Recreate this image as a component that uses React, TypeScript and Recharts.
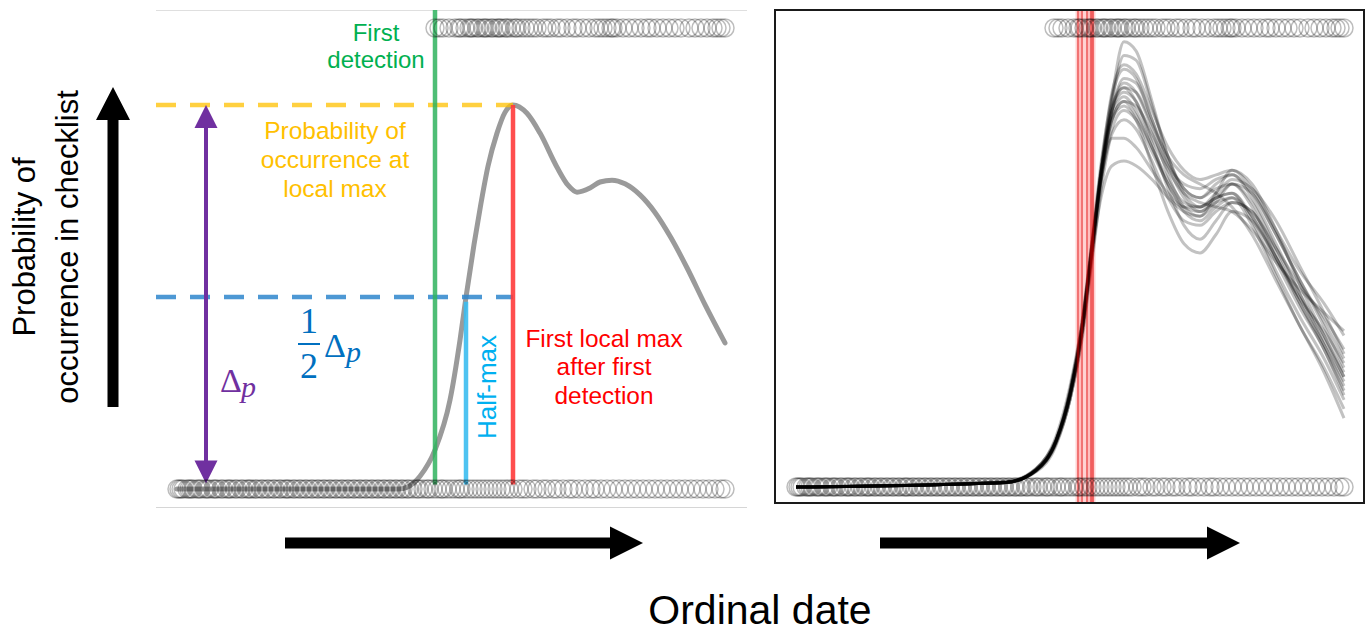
import { ComposedChart, Line, Scatter, XAxis, YAxis, ReferenceLine } from 'recharts'

// checklist days (shared by both panels)
const ABSENT_DAYS = [
  10, 11, 12, 13, 15, 16, 17, 18, 20, 21, 22, 24, 25, 26, 28, 29, 30, 32, 33, 35, 36, 37, 39, 40, 42, 43, 45, 46,
  47, 49, 50, 52, 53, 55, 56, 58, 59, 61, 62, 64, 65, 66, 68, 69, 71, 72, 74, 75, 77, 78, 80, 81, 83, 84, 86, 87,
  89, 90, 92, 93, 95, 96, 98, 99, 101, 102, 104, 105, 107, 108, 110, 111, 113, 114, 116, 117, 119, 120, 122, 123,
  125, 126, 128, 130, 131, 133, 135, 136, 138, 140, 142, 143, 145, 147, 149, 151, 152, 154, 156, 158, 160, 162,
  164, 166, 168, 170, 172, 174, 176, 178, 181, 183, 185, 188, 190, 193, 195, 198, 200, 203, 206, 208, 211, 214,
  217, 219, 222, 225, 228, 231, 234, 237, 240, 243, 246, 249, 252, 255, 258, 261, 264, 267, 270, 273, 276, 279,
  282, 284,
]
const PRESENT_DAYS = [
  139, 141, 143, 146, 149, 151, 152, 154, 156, 157, 158, 160, 161, 163, 164, 165, 167, 168, 170, 171, 172, 174,
  175, 177, 179, 180, 182, 184, 186, 188, 190, 193, 195, 197, 200, 202, 205, 208, 210, 213, 216, 219, 221, 223,
  225, 227, 228, 230, 233, 236, 239, 242, 245, 247, 250, 253, 256, 259, 262, 266, 269, 272, 275, 278, 280, 282, 284,
]

// left panel: schematic fitted curve
const LEFT_CURVE_DAYS = [10, 60, 121, 125, 131.5, 139, 146.5, 151.5, 154.5, 158.5, 162, 165.5, 170, 174, 178, 185,
  191.5, 200, 205.5, 210, 216.5, 221.5, 227.5, 234, 241.5, 249, 257, 265, 274, 284]
const LEFT_CURVE_P = [0, 0, 0, 0.004, 0.028, 0.085, 0.193, 0.323, 0.4165, 0.53, 0.62, 0.7, 0.772, 0.817, 0.833, 0.815,
  0.772, 0.698, 0.659, 0.644, 0.653, 0.666, 0.67, 0.662, 0.638, 0.6, 0.545, 0.48, 0.4, 0.317]

const FIRST_DETECTION_DAY = 139
const HALF_MAX_DAY = 154.5
const LOCAL_MAX_DAY = 178
const LOCAL_MAX_P = 0.833
const DELTA_ARROW_DAY = 24.5

// right panel: bootstrap ensemble
const ENSEMBLE_DAYS = [10, 115, 130, 140, 147, 153, 158, 163, 168, 174, 180, 188, 196, 204, 212, 220, 228, 238, 250, 262, 274, 284]
const ENSEMBLE_MEMBERS = [
  [0, 0.01, 0.035, 0.1, 0.21, 0.36, 0.54, 0.72, 0.85, 0.91, 0.89, 0.8, 0.7, 0.63, 0.6, 0.63, 0.66, 0.62, 0.52, 0.42, 0.33, 0.25],
  [0, 0.01, 0.04, 0.11, 0.22, 0.36, 0.53, 0.68, 0.78, 0.82, 0.8, 0.73, 0.66, 0.6, 0.58, 0.61, 0.63, 0.59, 0.49, 0.39, 0.3, 0.2],
  [0, 0.01, 0.033, 0.09, 0.19, 0.33, 0.5, 0.68, 0.82, 0.89, 0.88, 0.8, 0.71, 0.65, 0.63, 0.66, 0.68, 0.64, 0.55, 0.45, 0.36, 0.28],
  [0, 0.012, 0.04, 0.105, 0.205, 0.345, 0.52, 0.7, 0.84, 0.94, 0.93, 0.83, 0.72, 0.64, 0.61, 0.63, 0.64, 0.58, 0.47, 0.37, 0.28, 0.19],
  [0, 0.009, 0.036, 0.095, 0.19, 0.32, 0.49, 0.66, 0.77, 0.8, 0.78, 0.71, 0.63, 0.58, 0.57, 0.6, 0.62, 0.6, 0.52, 0.44, 0.37, 0.3],
  [0, 0.01, 0.038, 0.1, 0.2, 0.35, 0.53, 0.71, 0.83, 0.87, 0.84, 0.75, 0.65, 0.57, 0.54, 0.58, 0.62, 0.6, 0.51, 0.4, 0.3, 0.21],
  [0, 0.011, 0.037, 0.1, 0.21, 0.35, 0.52, 0.69, 0.8, 0.84, 0.83, 0.77, 0.7, 0.66, 0.65, 0.67, 0.68, 0.63, 0.53, 0.42, 0.31, 0.22],
  [0, 0.01, 0.036, 0.098, 0.2, 0.34, 0.51, 0.69, 0.82, 0.88, 0.86, 0.78, 0.68, 0.61, 0.59, 0.64, 0.69, 0.66, 0.56, 0.44, 0.33, 0.24],
  [0, 0.01, 0.039, 0.103, 0.2, 0.34, 0.52, 0.7, 0.81, 0.85, 0.82, 0.74, 0.66, 0.61, 0.6, 0.62, 0.63, 0.57, 0.46, 0.35, 0.26, 0.17],
  [0, 0.01, 0.034, 0.094, 0.19, 0.33, 0.51, 0.7, 0.85, 0.97, 0.95, 0.84, 0.72, 0.65, 0.63, 0.65, 0.66, 0.61, 0.5, 0.41, 0.34, 0.27],
  [0, 0.01, 0.037, 0.1, 0.2, 0.34, 0.52, 0.68, 0.76, 0.76, 0.74, 0.69, 0.64, 0.61, 0.61, 0.63, 0.64, 0.59, 0.5, 0.4, 0.31, 0.23],
  [0, 0.01, 0.036, 0.1, 0.2, 0.35, 0.52, 0.7, 0.82, 0.86, 0.84, 0.76, 0.69, 0.64, 0.62, 0.61, 0.6, 0.56, 0.49, 0.43, 0.38, 0.34],
  [0, 0.01, 0.036, 0.1, 0.2, 0.34, 0.51, 0.64, 0.7, 0.71, 0.7, 0.67, 0.63, 0.6, 0.59, 0.62, 0.66, 0.64, 0.55, 0.45, 0.35, 0.26],
  [0, 0.01, 0.037, 0.1, 0.2, 0.35, 0.53, 0.7, 0.8, 0.83, 0.8, 0.7, 0.6, 0.53, 0.51, 0.55, 0.6, 0.58, 0.5, 0.41, 0.32, 0.24],
  [0, 0.01, 0.035, 0.097, 0.2, 0.34, 0.52, 0.71, 0.86, 0.92, 0.9, 0.82, 0.74, 0.69, 0.67, 0.68, 0.69, 0.65, 0.56, 0.47, 0.4, 0.33],
  [0, 0.011, 0.038, 0.102, 0.21, 0.35, 0.53, 0.7, 0.82, 0.87, 0.86, 0.79, 0.72, 0.68, 0.66, 0.64, 0.61, 0.55, 0.45, 0.35, 0.25, 0.15],
  [0, 0.01, 0.036, 0.1, 0.2, 0.34, 0.52, 0.69, 0.8, 0.84, 0.81, 0.74, 0.67, 0.62, 0.61, 0.64, 0.67, 0.65, 0.58, 0.48, 0.38, 0.29],
]
const RIGHT_LOCAL_MAX_DAYS = [151, 153, 155.5, 157.5, 158.5]

const absentPts = ABSENT_DAYS.map((day) => ({ day, p: 0 }))
const presentPts = PRESENT_DAYS.map((day) => ({ day, p: 1 }))
const leftCurve = LEFT_CURVE_DAYS.map((day, i) => ({ day, p: LEFT_CURVE_P[i] }))
const ensemble = ENSEMBLE_MEMBERS.map((m) => ENSEMBLE_DAYS.map((day, i) => ({ day, p: m[i] })))

const SANS = "'Liberation Sans', Arial, sans-serif"
const SERIF = "'Liberation Serif', 'DejaVu Serif', serif"
const NO_MARGIN = { top: 0, right: 0, bottom: 0, left: 0 }

// eslint-disable-next-line @typescript-eslint/no-explicit-any
const Ring = (props: any) => (
  <circle cx={props.cx} cy={props.cy} r={9} fill="none" stroke="#000" strokeOpacity={0.26} strokeWidth={1.5} />
)

// eslint-disable-next-line @typescript-eslint/no-explicit-any
const DeltaArrow = (props: any) => {
  const { x1, y1, y2 } = props
  const top = Math.min(y1, y2)
  const bot = Math.max(y1, y2)
  const h = 23
  const w = 11.5
  return (
    <g>
      <line x1={x1} x2={x1} y1={top + h - 2} y2={bot - h + 2} stroke="#7030a0" strokeWidth={4} />
      <polygon points={`${x1},${top} ${x1 - w},${top + h} ${x1 + w},${top + h}`} fill="#7030a0" />
      <polygon points={`${x1},${bot} ${x1 - w},${bot - h} ${x1 + w},${bot - h}`} fill="#7030a0" />
    </g>
  )
}

function LeftPanel() {
  const yMin = -0.041
  const yMax = 1.039
  return (
    <div style={{ position: 'absolute', left: 156, top: 10 }}>
      <ComposedChart width={591} height={498} margin={NO_MARGIN}>
        <XAxis type="number" dataKey="day" domain={[-0.5, 295]} hide allowDataOverflow />
        <YAxis type="number" dataKey="p" domain={[yMin, yMax]} hide allowDataOverflow />
        <ReferenceLine y={yMax} stroke="#d4d4d4" strokeWidth={1.5} />
        <ReferenceLine y={yMin} stroke="#c8c8c8" strokeWidth={1.5} />
        <Line data={leftCurve} dataKey="p" type="monotone" stroke="#9a9a9a" strokeWidth={5}
          strokeLinecap="round" dot={false} isAnimationActive={false} />
        <ReferenceLine segment={[{ x: -0.5, y: LOCAL_MAX_P }, { x: LOCAL_MAX_DAY, y: LOCAL_MAX_P }]}
          stroke="#ffc000" strokeOpacity={0.75} strokeWidth={4.5} strokeDasharray="20 14" />
        <ReferenceLine segment={[{ x: -0.5, y: LOCAL_MAX_P / 2 }, { x: LOCAL_MAX_DAY, y: LOCAL_MAX_P / 2 }]}
          stroke="#2e86cc" strokeOpacity={0.85} strokeWidth={4.5} strokeDasharray="20 14" />
        <ReferenceLine segment={[{ x: FIRST_DETECTION_DAY, y: 0.01 }, { x: FIRST_DETECTION_DAY, y: yMax }]}
          stroke="#2fb35e" strokeOpacity={0.85} strokeWidth={4.5} />
        <ReferenceLine segment={[{ x: HALF_MAX_DAY, y: 0.01 }, { x: HALF_MAX_DAY, y: LOCAL_MAX_P / 2 - 0.01 }]}
          stroke="#3bbdef" strokeOpacity={0.9} strokeWidth={4.5} />
        <ReferenceLine segment={[{ x: LOCAL_MAX_DAY, y: 0.01 }, { x: LOCAL_MAX_DAY, y: LOCAL_MAX_P }]}
          stroke="#ff3b3b" strokeOpacity={0.9} strokeWidth={4.5} />
        <ReferenceLine segment={[{ x: DELTA_ARROW_DAY, y: 0.012 }, { x: DELTA_ARROW_DAY, y: LOCAL_MAX_P }]}
          shape={DeltaArrow} />
        <Scatter data={absentPts} dataKey="p" shape={Ring} isAnimationActive={false} />
        <Scatter data={presentPts} dataKey="p" shape={Ring} isAnimationActive={false} />
      </ComposedChart>
    </div>
  )
}

function RightPanel() {
  return (
    <div style={{ position: 'absolute', left: 776, top: 11 }}>
      <ComposedChart width={587} height={491} margin={NO_MARGIN}>
        <XAxis type="number" dataKey="day" domain={[0, 293.5]} hide allowDataOverflow />
        <YAxis type="number" dataKey="p" domain={[-0.0327, 1.037]} hide allowDataOverflow />
        {ensemble.map((d, i) => (
          <Line key={i} data={d} dataKey="p" type="monotone" stroke="#000" strokeOpacity={0.24}
            strokeWidth={3} dot={false} isAnimationActive={false} />
        ))}
        <Scatter data={absentPts} dataKey="p" shape={Ring} isAnimationActive={false} />
        <Scatter data={presentPts} dataKey="p" shape={Ring} isAnimationActive={false} />
        {RIGHT_LOCAL_MAX_DAYS.map((d) => (
          <ReferenceLine key={`w${d}`} x={d} stroke="#ff0000" strokeOpacity={0.18} strokeWidth={5} />
        ))}
        {RIGHT_LOCAL_MAX_DAYS.map((d) => (
          <ReferenceLine key={`t${d}`} x={d} stroke="#e00000" strokeOpacity={0.75} strokeWidth={1.2} />
        ))}
      </ComposedChart>
    </div>
  )
}

export default function App() {
  return (
    <div style={{ position: 'absolute', left: 0, top: 0, width: 1370, height: 634, background: '#fff' }}>
      <LeftPanel />
      <RightPanel />
      <svg width={1370} height={634} style={{ position: 'absolute', left: 0, top: 0, pointerEvents: 'none' }}
        fontFamily={SANS}>
        <rect x={775} y={10} width={589} height={493} fill="none" stroke="#1a1a1a" strokeWidth={2} />

        {/* axis arrows */}
        <polygon points="107.5,407 118.5,407 118.5,120 130,120 113,87 96,120 107.5,120" fill="#000" />
        <polygon points="285,537.5 610,537.5 610,526.5 643,543 610,559.5 610,548.5 285,548.5" fill="#000" />
        <polygon points="880,537.5 1207,537.5 1207,526.5 1240,543 1207,559.5 1207,548.5 880,548.5" fill="#000" />

        <text x={35} y={247} transform="rotate(-90 35 247)" textAnchor="middle" fontSize={31}>Probability of</text>
        <text x={78} y={247} transform="rotate(-90 78 247)" textAnchor="middle" fontSize={31}>occurrence in checklist</text>
        <text x={760} y={624} textAnchor="middle" fontSize={41}>Ordinal date</text>

        <g fill="#00b050" fontSize={24} textAnchor="middle">
          <text x={376} y={41}>First</text>
          <text x={376} y={68}>detection</text>
        </g>
        <g fill="#ffc000" fontSize={24.5} textAnchor="middle">
          <text x={335} y={139}>Probability of</text>
          <text x={335} y={168}>occurrence at</text>
          <text x={335} y={197}>local max</text>
        </g>
        <g fill="#ff0000" fontSize={24.4} textAnchor="middle">
          <text x={604} y={347}>First local max</text>
          <text x={604} y={375}>after first</text>
          <text x={604} y={404}>detection</text>
        </g>
        <text x={496} y={387} transform="rotate(-90 496 387)" textAnchor="middle" fontSize={26} fill="#00b0f0">
          Half-max
        </text>

        <g fill="#0070c0" fontFamily={SERIF}>
          <text x={309} y={333} fontSize={36} textAnchor="middle">1</text>
          <line x1={298} x2={320} y1={344} y2={344} stroke="#0070c0" strokeWidth={2} />
          <text x={309} y={378} fontSize={36} textAnchor="middle">2</text>
          <text x={324} y={357} fontSize={34}>Δ</text>
          <text x={346} y={362} fontSize={30} fontStyle="italic">p</text>
        </g>
        <g fill="#7030a0" fontFamily={SERIF}>
          <text x={220} y={392} fontSize={34}>Δ</text>
          <text x={241} y={397} fontSize={30} fontStyle="italic">p</text>
        </g>
      </svg>
    </div>
  )
}
